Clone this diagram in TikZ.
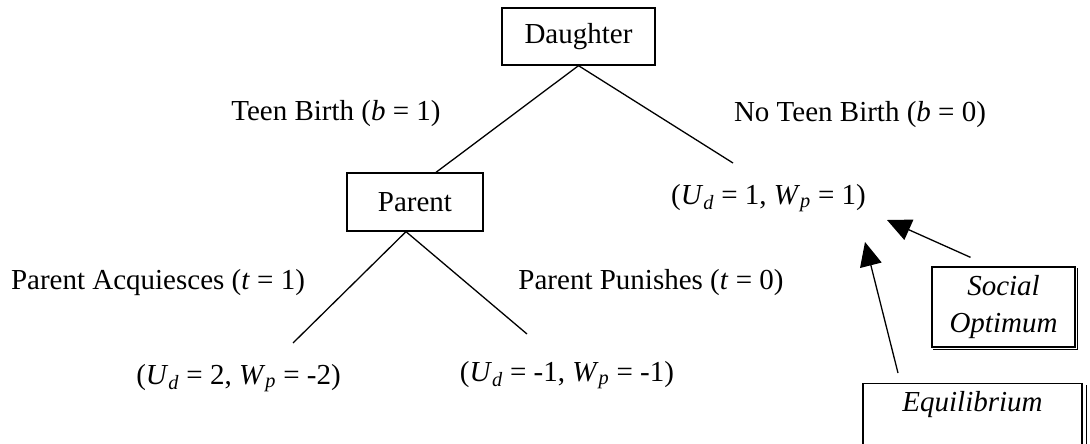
\documentclass[tikz,border=0pt]{standalone}
\usepackage{fontspec}
\setmainfont{Liberation Serif}
\usetikzlibrary{arrows.meta,positioning}

\newcommand{\payoff}[2]{(\textit{U}\textsubscript{\textit{d}} = #1, \textit{W}\textsubscript{\textit{p}} = #2)}

\begin{document}
\begin{tikzpicture}[x=1pt,y=-1pt,
      box/.style={rectangle, draw, line width=1.3pt, inner sep=0pt},
      lbl/.style={inner sep=0pt},
      edge/.style={line width=1.3pt},
      >={Triangle[length=24pt,width=22pt]},
      font=\fontsize{29}{34}\selectfont]
    \useasboundingbox (0,0) rectangle (1090,444);
    % players
    \node[box, minimum width=153pt, minimum height=57pt] (dau) at (578.5,36.5) {Daughter};
    \node[box, minimum width=136pt, minimum height=58pt] (par) at (415,202) {Parent};
    % branch labels
    \node[lbl] (teen)   at (336,114) {Teen Birth (\textit{b} = 1)};
    \node[lbl] (noteen) at (860,115) {No Teen Birth (\textit{b} = 0)};
    \node[lbl] (acq)    at (158,283) {Parent Acquiesces (\textit{t} = 1)};
    \node[lbl] (pun)    at (651,283) {Parent Punishes (\textit{t} = 0)};
    % payoffs
    \node[lbl] (payA) at (238.5,378) {\payoff{2}{-2}};
    \node[lbl] (payB) at (567,375)   {\payoff{-1}{-1}};
    \node[lbl] (payC) at (768.5,198) {\payoff{1}{1}};
    % outcome boxes
    \node[box, minimum width=143pt, minimum height=80pt, align=center,
          font=\fontsize{29}{37}\selectfont] (soc) at (1003.5,307)
          {\textit{Social}\\\textit{Optimum}};
    \node[box, anchor=north, minimum width=219pt, inner ysep=8pt, align=center,
          font=\fontsize{29}{37}\selectfont] (equ) at (972.5,383)
          {\textit{Equilibrium}\\~};
    % shadow edges of the outcome boxes
    \draw[line width=1pt] ([xshift=2pt,yshift=-2pt]soc.north east) -- ([xshift=2pt,yshift=-2pt]soc.south east)
      -- ([xshift=2pt,yshift=-2pt]soc.south west);
    \draw[line width=1pt] ([xshift=4pt,yshift=-2pt]equ.north east) -- ([xshift=4pt]equ.south east);
    % free ends of the branches
    \coordinate (endC) at (733,163);
    \coordinate (endA) at (293,343);
    \coordinate (endB) at (527,334);
    \coordinate (tipS) at (887,220);
    \coordinate (tipE) at (865,242);
    \draw[edge] (dau.south) -- ([xshift=21pt]par.north);
    \draw[edge] (dau.south) -- (endC);
    \draw[edge] ([xshift=-9pt]par.south) -- (endA);
    \draw[edge] ([xshift=-9pt]par.south) -- (endB);
    % arrows to the outcome
    \draw[edge, ->] ([xshift=-33pt,yshift=9pt]soc.north) -- (tipS);
    \draw[edge, ->] ([xshift=-74.5pt,yshift=10pt]equ.north) -- (tipE);
\end{tikzpicture}
\end{document}
